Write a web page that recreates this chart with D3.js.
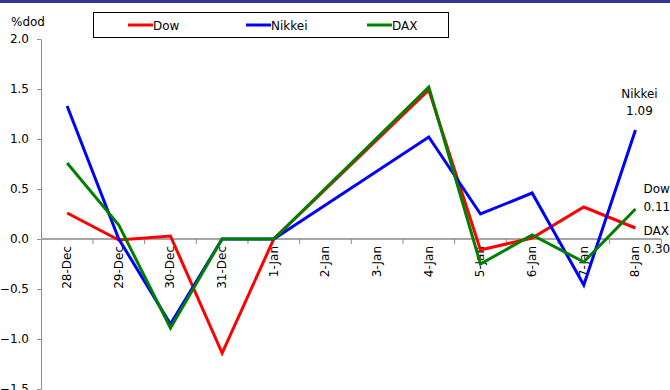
<!DOCTYPE html>
<html><head><meta charset="utf-8">
<script src="https://cdn.jsdelivr.net/npm/d3@7/dist/d3.min.js"></script>
<style>
html,body{margin:0;padding:0;background:#fff;}
svg{display:block;font-family:"DejaVu Sans",sans-serif;font-weight:normal;}
</style></head><body>
<svg id="c" width="670" height="390"></svg>
<script>
const categories = ["28-Dec","29-Dec","30-Dec","31-Dec","1-Jan","2-Jan","3-Jan","4-Jan","5-Jan","6-Jan","7-Jan","8-Jan"];
const dow    = [0.26, -0.01, 0.03, -1.14, 0.00, null, null, 1.49, -0.11, 0.01, 0.32, 0.11];
const nikkei = [1.33, 0.00, -0.85, 0.00, 0.00, null, null, 1.02, 0.25, 0.46, -0.46, 1.09];
const dax    = [0.76, 0.14, -0.89, 0.00, 0.00, null, null, 1.52, -0.25, 0.04, -0.23, 0.30];
const yTicks = [-1.5, -1.0, -0.5, 0.0, 0.5, 1.0, 1.5, 2.0];
const seriesNames = ["Dow", "Nikkei", "DAX"];
const seriesColors = ["#ff0000", "#0000ff", "#008000"];
const yLabel = "%dod";

const series = [dow, nikkei, dax];
const svg = d3.select("#c");
const FS = 12;

svg.append("rect").attr("x",0).attr("y",0).attr("width",670).attr("height",3).attr("fill","#333399");

const x = d3.scaleBand().domain(categories).range([41.3, 661.3]);
const cx = c => x(c) + x.bandwidth()/2;
const y = d3.scaleLinear().domain([-1.5, 2.0]).range([389, 39]);

// y axis
const yAxis = d3.axisLeft(y).tickValues(yTicks).tickFormat(d3.format(".1f")).tickSizeInner(4).tickSizeOuter(0).tickPadding(8);
const gy = svg.append("g").attr("transform","translate(41,0)").call(yAxis);
gy.attr("font-family",null).attr("font-size",null);
gy.select(".domain").attr("stroke","#8c8c8c");
gy.selectAll(".tick line").attr("stroke","#8c8c8c");
gy.selectAll(".tick text").attr("font-size",FS).attr("fill","#000");

// x axis at zero
const gx = svg.append("g").attr("transform",`translate(0,${y(0)})`);
gx.append("line").attr("x1",41).attr("x2",661).attr("y1",0).attr("y2",0).attr("stroke","#a6a6a6").attr("stroke-width",2);
const bounds = categories.map(c => x(c) + x.bandwidth());
gx.selectAll("line.tk").data(bounds).join("line").attr("class","tk")
  .attr("x1",d=>d).attr("x2",d=>d).attr("y1",0).attr("y2",5).attr("stroke","#8c8c8c");
gx.selectAll("text").data(categories).join("text")
  .attr("transform", d => `translate(${cx(d)+4},7) rotate(-90)`)
  .attr("text-anchor","end").attr("font-size",FS).attr("fill","#000").text(d=>d);

svg.append("text").attr("x",28).attr("y",26).attr("text-anchor","middle").attr("font-size",FS).text(yLabel);

// lines
const line = d3.line().x(d => cx(d.c)).y(d => y(d.v));
series.forEach((s, i) => {
  const pts = categories.map((c, j) => ({c, v: s[j]})).filter(d => d.v !== null);
  svg.append("path").datum(pts).attr("d", line).attr("fill","none")
    .attr("stroke", seriesColors[i]).attr("stroke-width",3).attr("stroke-linejoin","miter");
});

// end labels
const last = categories.length - 1;
const lx = cx(categories[last]);
const endLabels = [
  {i:1, dx:4, anchor:"middle", dy1:-32, dy2:-15},
  {i:0, dx:8, anchor:"start", dy1:-35, dy2:-17},
  {i:2, dx:8, anchor:"start", dy1:26, dy2:44}
];
endLabels.forEach(e => {
  const v = series[e.i][last];
  const g = svg.append("g").attr("font-size",FS).attr("text-anchor",e.anchor);
  g.append("text").attr("x",lx+e.dx).attr("y",y(v)+e.dy1).text(seriesNames[e.i]);
  g.append("text").attr("x",lx+e.dx).attr("y",y(v)+e.dy2).text(d3.format(".2f")(v));
});

// legend
const lg = svg.append("g");
lg.append("rect").attr("x",93.5).attr("y",12.5).attr("width",355).attr("height",25).attr("fill","#fff").attr("stroke","#000");
const legX = [128, 246, 367];
seriesNames.forEach((n, i) => {
  lg.append("line").attr("x1",legX[i]).attr("x2",legX[i]+25).attr("y1",25).attr("y2",25)
    .attr("stroke",seriesColors[i]).attr("stroke-width",3);
  lg.append("text").attr("x",legX[i]+25).attr("y",30).attr("font-size",FS).text(n);
});
</script>
</body></html>
